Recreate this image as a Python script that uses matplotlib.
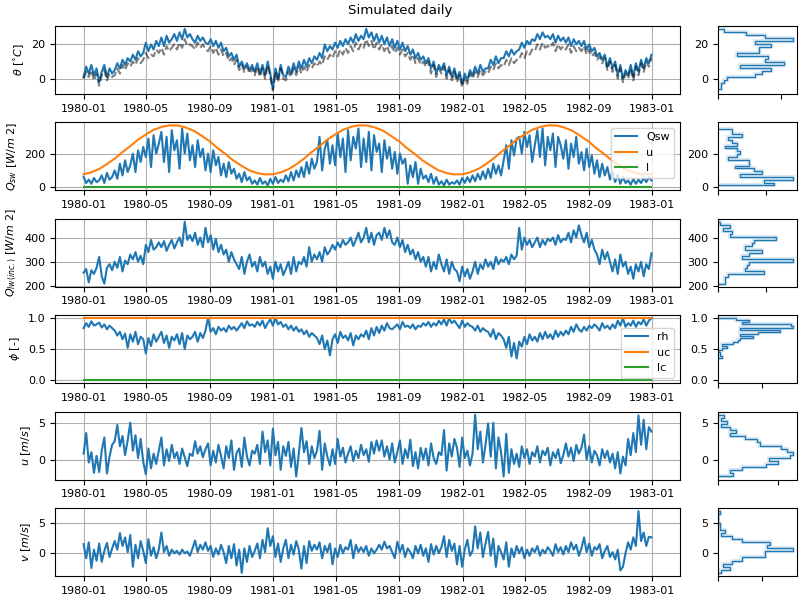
import numpy as np
import pandas as pd
import matplotlib
matplotlib.use("Agg")
import matplotlib.pyplot as plt
import matplotlib.dates as mdates

plt.rcParams['font.size'] = 8

# 5-daily samples, 1980-01-01 .. 1982-12-31
theta_sim = [
    1, 7, 3, 8, 2, 6,  -2, 4, 8, 1, 6, 3,  5, 9, 6, 11, 8, 12,
    10, 14, 11, 16, 13, 15,  21, 16, 20, 17, 22, 19,  24, 19, 25, 21, 23, 26,
    22, 27, 23, 29, 24, 26,  23, 21, 25, 22, 24, 21,  20, 23, 19, 22, 18, 21,
    16, 18, 13, 15, 11, 14,  7, 10, 6, 9, 5, 8,  4, 9, 3, 8, 2, 10,
    3, -6, 6, 0, 8, 2,  1, 7, 3, 9, 4, 10,  6, 11, 7, 12, 9, 13,
    11, 15, 12, 20, 16, 19,  17, 21, 18, 22, 19, 23,  20, 24, 21, 26, 22, 25,
    23, 29, 24, 27, 22, 26,  21, 25, 20, 24, 19, 23,  18, 22, 17, 21, 16, 19,
    14, 17, 12, 15, 11, 13,  9, 12, 6, 10, 3, 8,  5, 9, 2, 7, 1, 6,
    0, 4, -3, 3, -1, 5,  2, 7, 3, 8, 4, 6,  6, 11, 8, 13, 9, 12,
    12, 16, 13, 17, 14, 16,  17, 21, 18, 22, 20, 23,  22, 26, 23, 27, 24, 25,
    23, 26, 21, 25, 22, 24,  21, 24, 19, 23, 20, 22,  19, 22, 17, 20, 16, 18,
    13, 15, 11, 14, 7, 12,  6, 10, 2, 8, 0, 5,  2, 8, 1, 9, 4, 11, 6, 12, 9, 14,
]
theta_obs = [
    0, 4, 1, 5, -1, 3,  -4, 2, 5, -1, 3, 1,  2, 6, 3, 8, 5, 9,
    7, 10, 8, 12, 9, 11,  15, 12, 14, 13, 17, 15,  18, 14, 19, 16, 18, 20,
    17, 21, 18, 23, 19, 20,  19, 17, 21, 18, 20, 17,  16, 19, 15, 18, 14, 17,
    13, 15, 10, 12, 8, 11,  5, 8, 4, 7, 3, 6,  2, 7, 1, 6, 0, 8,
    1, -7, 4, -2, 6, 0,  -1, 4, 1, 6, 2, 7,  3, 7, 4, 8, 6, 9,
    7, 10, 8, 13, 11, 14,  12, 16, 13, 17, 14, 18,  15, 19, 16, 21, 17, 20,
    18, 23, 19, 22, 17, 21,  17, 20, 16, 19, 15, 19,  15, 18, 14, 17, 13, 15,
    11, 14, 9, 12, 8, 10,  7, 10, 3, 8, 1, 6,  3, 7, 0, 5, -1, 4,
    -2, 2, -5, 1, -3, 3,  0, 4, 1, 5, 2, 4,  3, 7, 5, 9, 6, 8,
    7, 11, 8, 12, 9, 11,  11, 15, 12, 16, 14, 17,  16, 20, 17, 21, 18, 19,
    18, 21, 16, 20, 17, 19,  17, 20, 15, 19, 16, 18,  16, 19, 14, 17, 13, 15,
    11, 13, 9, 12, 5, 10,  4, 8, 0, 6, -2, 3,  0, 6, -1, 7, 2, 9, 4, 10, 7, 12,
]
qsw = [
    60, 25, 45, 20, 55, 30,  40, 70, 25, 85, 45, 60,  100, 50, 140, 70, 160, 90,
    130, 200, 90, 220, 150, 240,  180, 290, 120, 310, 200, 260,  330, 150, 300, 90, 340, 220,
    280, 110, 350, 200, 320, 160,  250, 120, 280, 180, 230, 100,  200, 90, 220, 130, 180, 70,
    140, 60, 150, 80, 110, 50,  80, 30, 90, 40, 60, 20,  40, 15, 55, 20, 35, 10,
    50, 20, 60, 25, 45, 30,  70, 35, 90, 40, 100, 60,  120, 60, 150, 80, 170, 110,
    150, 300, 100, 230, 280, 140,  250, 130, 320, 180, 290, 90,  340, 160, 300, 230, 350, 120,
    290, 150, 330, 100, 310, 210,  260, 90, 280, 170, 240, 110,  210, 80, 200, 140, 170, 20,
    130, 60, 150, 20, 110, 50,  70, 30, 80, 20, 60, 15,  35, 10, 45, 15, 30, 20,
    40, 15, 55, 25, 60, 30,  70, 35, 80, 45, 95, 50,  110, 55, 140, 80, 130, 70,
    160, 250, 110, 280, 190, 290,  300, 200, 330, 240, 310, 150,  250, 340, 180, 350, 130, 300,
    220, 320, 120, 300, 250, 170,  280, 110, 260, 180, 300, 140,  210, 100, 230, 120, 190, 80,
    160, 60, 140, 70, 120, 45,  90, 30, 75, 20, 60, 25,  40, 15, 50, 20, 45, 25, 55, 30, 60, 40,
]
# clear-sky upper bound, sampled on the 1st and 15th of each month
qsw_upper_year = [77, 88, 110, 138, 170, 207, 247, 284, 316, 342, 361, 369,
                  368, 357, 336, 308, 272, 234, 197, 161, 127, 101, 84, 76]
qsw_upper_last = 77
qsw_lower = 0
qlw = [
    255, 270, 215, 265, 250, 275,  320, 240, 210, 275, 290, 265,  300, 275, 320, 260, 305, 290,
    330, 310, 340, 300, 325, 290,  370, 340, 390, 350, 360, 380,  360, 385, 345, 370, 390, 355,
    380, 400, 365, 465, 390, 410,  385, 420, 370, 400, 360, 440,  380, 410, 350, 395, 340, 370,
    330, 350, 300, 340, 310, 290,  270, 320, 250, 300, 330, 280,  300, 260, 320, 280, 300, 250,
    280, 230, 300, 260, 290, 245,  270, 300, 250, 320, 260, 300,  290, 320, 280, 360, 300, 330,
    310, 340, 300, 360, 330, 345,  370, 350, 380, 360, 390, 370,  380, 400, 365, 390, 420, 380,
    400, 440, 380, 420, 370, 410,  420, 390, 440, 400, 430, 380,  370, 400, 360, 390, 340, 370,
    330, 350, 310, 340, 300, 320,  280, 320, 260, 300, 270, 330,  290, 260, 310, 250, 300, 270,
    260, 220, 280, 240, 270, 230,  260, 300, 250, 290, 270, 310,  280, 300, 270, 320, 290, 310,
    300, 320, 290, 330, 310, 325,  440, 350, 400, 370, 390, 360,  380, 400, 360, 390, 370, 395,
    385, 400, 370, 410, 380, 395,  390, 420, 380, 430, 400, 450,  410, 380, 420, 360, 390, 350,
    330, 290, 350, 310, 340, 300,  260, 310, 250, 330, 280, 300,  250, 280, 230, 290, 260, 300, 240, 290, 270, 335,
]
rh = [
    0.84, 0.92, 0.86, 0.95, 0.88, 0.90,  0.93, 0.85, 0.90, 0.82, 0.88, 0.84,  0.80, 0.72, 0.78, 0.66, 0.75, 0.52,
    0.74, 0.62, 0.78, 0.58, 0.70, 0.66,  0.43, 0.68, 0.55, 0.74, 0.62, 0.70,  0.78, 0.60, 0.72, 0.52, 0.70, 0.64,
    0.74, 0.58, 0.76, 0.50, 0.72, 0.66,  0.70, 0.78, 0.62, 0.76, 0.68, 0.80,  1.00, 0.78, 0.84, 0.74, 0.86, 0.80,
    0.84, 0.78, 0.88, 0.82, 0.86, 0.80,  0.86, 0.92, 0.84, 0.95, 0.88, 0.90,  0.86, 0.94, 0.88, 0.96, 0.84, 0.92,
    0.98, 0.88, 1.00, 0.90, 0.94, 0.86,  0.90, 0.82, 0.88, 0.80, 0.86, 0.78,  0.82, 0.74, 0.80, 0.70, 0.76, 0.72,
    0.68, 0.58, 0.72, 0.50, 0.64, 0.40,  0.66, 0.74, 0.60, 0.78, 0.68, 0.72,  0.64, 0.76, 0.56, 0.72, 0.66, 0.74,
    0.70, 0.80, 0.66, 0.84, 0.72, 0.86,  0.76, 0.88, 0.80, 0.92, 0.84, 0.82,  0.86, 0.90, 0.82, 0.94, 0.86, 0.88,
    0.84, 0.90, 0.82, 0.88, 0.86, 0.92,  0.88, 0.94, 0.86, 0.92, 0.88, 0.96,  0.90, 0.98, 0.88, 1.00, 0.92, 0.96,
    0.90, 0.84, 0.96, 0.86, 0.92, 0.88,  0.86, 0.80, 0.88, 0.78, 0.84, 0.80,  0.78, 0.70, 0.82, 0.66, 0.76, 0.72,
    0.66, 0.52, 0.70, 0.38, 0.60, 0.35,  0.62, 0.54, 0.70, 0.58, 0.74, 0.64,  0.70, 0.62, 0.76, 0.66, 0.78, 0.68,
    0.74, 0.66, 0.80, 0.70, 0.78, 0.72,  0.80, 0.74, 0.86, 0.78, 0.90, 0.82,  0.78, 0.86, 0.80, 0.88, 0.84, 0.90,
    0.86, 0.80, 0.92, 0.84, 0.88, 0.82,  0.90, 0.84, 0.96, 0.88, 1.00, 0.86,  0.92, 0.88, 0.96, 0.86, 0.94, 0.90, 0.98, 0.88, 0.96, 1.00,
]
rh_upper = 1
rh_lower = 0
wind_u = [
    0.8, 3.6, -0.4, 1.0, -1.8, 0.5,  -1.7, 1.2, 3.0, -1.9, 0.4, 2.0,  2.5, 4.7, 1.8, 3.2, 0.6, 2.6,
    5.0, 1.2, 3.3, 0.2, 2.8, -0.3,  -2.0, 1.5, -1.2, 0.8, -0.6, 1.2,  3.0, -0.8, 1.4, -0.2, 2.0, 0.2,
    1.0, -0.6, 1.5, 0.3, -0.9, 0.8,  0.5, 2.5, 0.8, 1.8, 0.3, 1.4,  2.2, -0.8, 1.2, -0.4, 2.0, 0.5,
    -1.2, 1.8, 0.2, 2.6, -1.4, 0.9,  1.5, -1.0, 3.0, 0.4, -0.8, 1.2,  0.8, 2.0, -0.6, 3.8, 1.0, 2.6,
    -0.8, 4.2, 0.6, 2.4, -1.4, 1.8,  0.5, 2.4, -1.0, 1.5, -2.3, 0.8,  4.3, 1.0, 2.5, -0.6, 1.8, 0.2,
    1.2, 3.9, -1.4, 2.2, 0.4, -0.8,  1.4, -0.6, 2.8, 0.4, 1.6, -0.4,  0.8, 1.8, -0.2, 1.2, 0.2, 2.0,
    0.6, 1.4, -0.3, 2.4, 0.8, 2.6,  1.2, 2.6, 0.4, 1.8, 0.0, 2.2,  -0.4, 1.0, 2.6, -0.6, 1.4, 0.2,
    2.7, -0.9, 1.0, -1.2, 1.6, 0.0,  1.5, -0.8, 2.2, 0.2, -0.6, 1.0,  0.6, 4.0, -1.5, 2.2, 0.4, 2.8,
    1.6, -1.0, 3.0, 0.2, 1.2, -0.8,  0.8, 6.1, 1.4, 3.8, -0.4, 2.0,  4.9, 0.4, 5.0, -1.2, 3.0, 1.0,
    -2.3, 3.5, -1.8, 1.4, -0.6, 0.8,  -1.0, 1.8, 0.2, 1.4, -0.6, 1.0,  0.4, 1.8, -0.4, 1.2, 0.6, 1.6,
    -0.8, 1.0, 0.2, 1.4, -0.5, 0.6,  2.2, 0.4, 1.6, -0.2, 2.0, 0.8,  1.6, 3.4, 0.0, 1.8, -0.4, 1.2,
    0.6, -0.8, 1.4, 0.2, 1.2, -0.4,  0.8, -1.2, 1.0, -1.9, 0.4, -0.8,  2.8, 0.6, 3.6, 1.0, 6.0, 2.0, 5.4, 1.4, 4.4, 3.8,
]
wind_v = [
    1.5, -0.8, 1.8, -2.4, 0.6, -1.2,  1.6, -1.4, 0.4, 1.7, -0.6, 0.8,  2.0, 0.6, 3.3, 1.2, 2.6, 0.2,
    3.0, -2.2, 1.4, -0.8, 2.0, 0.4,  -1.6, 2.3, -0.4, 1.0, -0.8, 0.6,  3.4, 0.2, 1.2, -0.4, 0.6, 0.0,
    0.4, -0.2, 0.6, 0.0, 0.3, -0.4,  0.8, 2.1, 0.2, 1.4, 0.6, 1.8,  0.4, 1.2, -0.6, 0.8, -0.2, 1.4,
    0.2, -1.6, 1.2, -0.8, 1.5, -2.0,  0.6, -3.2, 0.8, -1.4, 1.2, -0.6,  0.4, 1.6, -0.8, 2.2, 0.2, 4.1,
    1.2, 2.8, -0.6, 1.6, -1.4, 0.8,  2.2, -0.8, 1.4, -0.2, 2.0, 0.6,  -2.5, 1.2, -1.6, 2.0, 0.4, 1.4,
    0.6, 1.8, -0.8, 1.2, 0.2, 1.6,  -1.8, 0.8, -0.6, 1.4, 0.0, 1.0,  0.6, 2.2, -0.8, 1.4, 0.2, 1.0,
    0.2, 1.2, -0.4, 0.8, 0.0, 0.6,  1.4, 0.6, 1.9, 0.8, 1.2, 0.2,  -0.8, 1.9, 0.2, 1.4, -0.6, 0.8,
    0.2, -0.8, 1.2, 0.0, 1.4, -0.4,  0.8, -1.4, 1.5, -0.2, 1.2, 0.0,  1.0, 2.8, -0.6, 2.2, 0.4, 1.6,
    -1.8, 1.2, -2.2, 0.6, 2.2, -0.4,  0.4, 4.4, 0.8, 3.4, -0.6, 1.6,  3.5, -0.4, 2.4, -2.2, 1.2, 0.2,
    -1.0, 1.8, -2.2, 0.8, -0.6, 1.2,  0.0, 1.0, -0.8, 0.6, -0.4, 0.8,  0.2, 1.2, -0.4, 0.6, 0.0, 1.0,
    0.4, -0.4, 1.5, 0.2, 1.0, -0.2,  1.2, 0.2, 1.8, 0.6, 1.4, -0.4,  0.8, 2.6, 0.2, 1.6, -0.4, 1.0,
    0.6, 1.5, -0.8, 0.4, 1.2, -0.6,  0.2, -1.0, 0.6, -2.8, -2.2, 0.0,  1.8, 0.6, 2.6, 1.2, 6.9, 2.0, 3.4, 1.2, 2.7, 2.6,
]

dates = pd.date_range('1980-01-01', periods=len(theta_sim), freq='5D')
dates_upper = list(pd.date_range('1980-01-01', '1982-12-31', freq='SMS')) + [pd.Timestamp('1982-12-31')]
qsw_upper = qsw_upper_year * 3 + [qsw_upper_last]

fig = plt.figure(figsize=(8, 6), dpi=100)
gs = fig.add_gridspec(6, 2, width_ratios=[625, 79], left=0.069, right=0.996,
                      top=0.957, bottom=0.04, hspace=0.418, wspace=0.108)
fig.suptitle('Simulated daily', y=0.993)


def hist_panel(ax, values):
    # narrow histogram sharing the y axis with the time series
    hax = fig.add_subplot(ax.get_gridspec()[ax.get_subplotspec().rowspan.start, 1], sharey=ax)
    hax.hist(values, bins=20, orientation='horizontal', histtype='step', color='C0', lw=3, alpha=0.15)
    hax.hist(values, bins=20, orientation='horizontal', histtype='step', color='C0', lw=1)
    hax.tick_params(labelbottom=False)
    return hax


axes = [fig.add_subplot(gs[i, 0]) for i in range(6)]

# temperature
ax = axes[0]
ax.plot(dates, theta_sim, color='C0')
ax.plot(dates, theta_obs, color='k', ls='--', alpha=0.5)
ax.set_ylabel(r'$\theta$ [$^{\circ}C$]')
hist_panel(ax, theta_sim)

# shortwave
ax = axes[1]
ax.plot(dates, qsw, label='Qsw')
ax.plot(dates_upper, qsw_upper, label='u')
ax.plot(dates, [qsw_lower] * len(dates), label='l')
ax.legend(loc='upper right')
ax.set_ylabel(r'$Q_{sw}$ [$W/m$ 2]')
hist_panel(ax, qsw)

# longwave
ax = axes[2]
ax.plot(dates, qlw)
ax.set_ylabel(r'$Q_{lw(inc.)}$ [$W/m$ 2]')
hist_panel(ax, qlw)

# relative humidity
ax = axes[3]
ax.plot(dates, rh, label='rh')
ax.plot(dates, [rh_upper] * len(dates), label='uc')
ax.plot(dates, [rh_lower] * len(dates), label='lc')
ax.legend(loc='lower right')
ax.set_ylabel(r'$\phi$ [-]')
hist_panel(ax, rh)

# wind components
ax = axes[4]
ax.plot(dates, wind_u)
ax.set_ylabel(r'$u$ [$m/s$]')
hist_panel(ax, wind_u)

ax = axes[5]
ax.plot(dates, wind_v)
ax.set_ylabel(r'$v$ [$m/s$]')
hist_panel(ax, wind_v)

for ax in axes:
    ax.grid(True)
    ax.xaxis.set_major_locator(mdates.MonthLocator(bymonth=[1, 5, 9]))
    ax.xaxis.set_major_formatter(mdates.DateFormatter('%Y-%m'))

fig.savefig('out.png', dpi=100)
